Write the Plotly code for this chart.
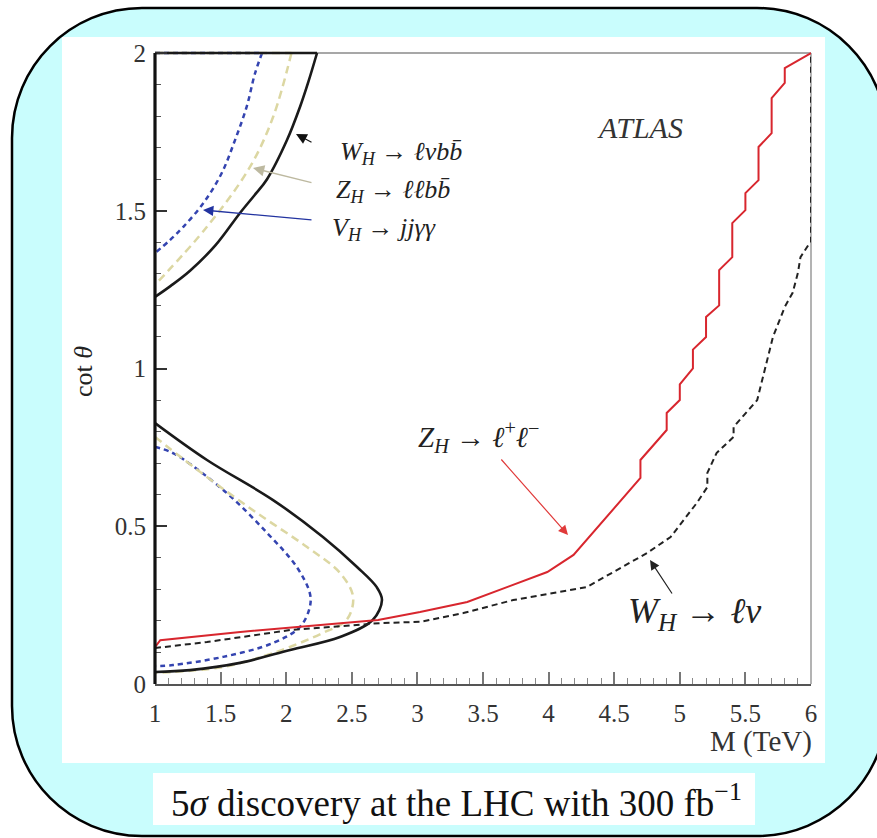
import plotly.graph_objects as go

# ---------------- data ----------------
# W_H -> l nu b bbar (solid black), upper and lower exclusion contours
wlvbb_up_x = [1.0, 2.235, 2.17, 2.105, 2.006, 1.854, 1.76, 1.648, 1.46, 1.267, 1.12, 1.0]
wlvbb_up_y = [2.0, 2.0, 1.91, 1.829, 1.724, 1.60, 1.55, 1.493, 1.39, 1.31, 1.262, 1.227]
wlvbb_lo_x = [1.0, 1.396, 1.90, 2.28, 2.54, 2.69, 2.73, 2.66, 2.41, 2.03, 1.648, 1.267, 1.0]
wlvbb_lo_y = [0.827, 0.71, 0.583, 0.466, 0.371, 0.307, 0.266, 0.203, 0.149, 0.108, 0.067, 0.044, 0.038]

# Z_H -> l l b bbar (khaki dashed)
zllbb_up_x = [1.0, 2.04, 1.90, 1.724, 1.396, 1.0]
zllbb_up_y = [2.0, 2.0, 1.797, 1.639, 1.449, 1.265]
zllbb_lo_x = [1.0, 1.396, 1.777, 2.159, 2.41, 2.51, 2.46, 2.28, 1.90, 1.52, 1.0]
zllbb_lo_y = [0.783, 0.656, 0.542, 0.434, 0.352, 0.276, 0.203, 0.162, 0.098, 0.054, 0.035]

# V_H -> j j gamma gamma (blue dashed)
vjjgg_up_x = [1.0, 1.816, 1.762, 1.699, 1.61, 1.508, 1.37, 1.216, 1.114, 1.0]
vjjgg_up_y = [2.0, 2.0, 1.935, 1.830, 1.724, 1.619, 1.525, 1.449, 1.407, 1.366]
vjjgg_lo_x = [1.0, 1.137, 1.52, 1.854, 2.08, 2.18, 2.18, 2.105, 1.90, 1.52, 1.137, 1.0]
vjjgg_lo_y = [0.751, 0.732, 0.615, 0.479, 0.371, 0.288, 0.244, 0.181, 0.13, 0.086, 0.06, 0.057]

# Z_H -> l+ l- (red solid)
zll_x = [1.0, 1.04, 1.65, 2.70, 3.02, 3.38, 3.99, 4.19, 4.70, 4.70, 4.90, 4.90, 5.00, 5.00,
         5.10, 5.10, 5.20, 5.20, 5.30, 5.30, 5.40, 5.40, 5.50, 5.50, 5.60, 5.60, 5.70, 5.70,
         5.80, 5.80, 6.00]
zll_y = [0.117, 0.139, 0.165, 0.203, 0.228, 0.26, 0.355, 0.409, 0.653, 0.71, 0.805, 0.859, 0.90, 0.95,
         1.0, 1.06, 1.10, 1.163, 1.20, 1.312, 1.353, 1.461, 1.502, 1.556, 1.597, 1.702, 1.746, 1.857,
         1.905, 1.952, 2.0]

# W_H -> l nu (black dashed)
wlv_x = [1.0, 1.396, 2.03, 2.715, 3.02, 3.35, 3.73, 4.29, 4.75, 4.93, 5.13, 5.21, 5.21, 5.28,
         5.41, 5.41, 5.59, 5.65, 5.71, 5.80, 5.86, 5.90, 5.92, 5.99, 6.0, 6.0]
wlv_y = [0.114, 0.133, 0.171, 0.193, 0.197, 0.225, 0.266, 0.307, 0.415, 0.466, 0.574, 0.624, 0.669, 0.732,
         0.783, 0.815, 0.90, 1.0, 1.10, 1.195, 1.24, 1.303, 1.353, 1.398, 1.40, 2.0]

x_tickvals = [1, 1.5, 2, 2.5, 3, 3.5, 4, 4.5, 5, 5.5, 6]
x_ticktext = ["1", "1.5", "2", "2.5", "3", "3.5", "4", "4.5", "5", "5.5", "6"]
y_tickvals = [0, 0.5, 1, 1.5, 2]
y_ticktext = ["0", "0.5", "1", "1.5", "2"]

# ---------------- styling ----------------
SERIF = "Liberation Serif, Times New Roman, DejaVu Serif, serif"
W, H = 877, 838
PL, PR, PB = 155, 811, 684   # pixel of x=1, x=6, y=0
PY2 = 53                     # pixel of y=2
EXTRA = 4                    # extra pixels above y=2 so lines on the top edge are not clipped
PTA = PY2 - EXTRA
YMAX = 2 + EXTRA * 2 / (PB - PY2)


def fx(px):
    return (px - PL) / (PR - PL)


def fy(py):
    return (PB - py) / (PB - PTA)


BLACK = "#1a1a1a"
KHAKI = "#dcd7a2"
BLUE = "#3444b0"
RED = "#d8262e"

fig = go.Figure()


def add(x, y, color, width, dash=None, shape="spline"):
    fig.add_trace(go.Scatter(
        x=x, y=y, mode="lines",
        line=dict(color=color, width=width, dash=dash, shape=shape,
                  smoothing=1.0 if shape == "spline" else None),
        showlegend=False, hoverinfo="skip"))


def add_upper(x, y, color, width, dash=None):
    # straight segment along the top edge, then the curved contour
    add(x[:2], y[:2], color, width, dash, shape="linear")
    add(x[1:], y[1:], color, width, dash)


add_upper(vjjgg_up_x, vjjgg_up_y, BLUE, 2.5, "5px,4px")
add(vjjgg_lo_x, vjjgg_lo_y, BLUE, 2.5, "5px,4px")
add_upper(zllbb_up_x, zllbb_up_y, KHAKI, 2.5, "8px,5px")
add(zllbb_lo_x, zllbb_lo_y, KHAKI, 2.5, "8px,5px")
add_upper(wlvbb_up_x, wlvbb_up_y, BLACK, 2.6)
add(wlvbb_lo_x, wlvbb_lo_y, BLACK, 2.6)
add(wlv_x, wlv_y, "#222222", 2, "6px,4px", shape="linear")
add(zll_x, zll_y, RED, 2, None, shape="linear")


# ---------------- background decorations ----------------
def rounded_path(l, t, r_, b, rad):
    k = 0.5523 * rad
    X, Y = fx, fy
    p = f"M {X(l+rad)},{Y(t)} L {X(r_-rad)},{Y(t)} "
    p += f"C {X(r_-rad+k)},{Y(t)} {X(r_)},{Y(t+rad-k)} {X(r_)},{Y(t+rad)} "
    p += f"L {X(r_)},{Y(b-rad)} "
    p += f"C {X(r_)},{Y(b-rad+k)} {X(r_-rad+k)},{Y(b)} {X(r_-rad)},{Y(b)} "
    p += f"L {X(l+rad)},{Y(b)} "
    p += f"C {X(l+rad-k)},{Y(b)} {X(l)},{Y(b-rad+k)} {X(l)},{Y(b-rad)} "
    p += f"L {X(l)},{Y(t+rad)} "
    p += f"C {X(l)},{Y(t+rad-k)} {X(l+rad-k)},{Y(t)} {X(l+rad)},{Y(t)} Z"
    return p


shapes = [
    dict(type="path", xref="paper", yref="paper", layer="below",
         path=rounded_path(12, 8, 887, 836, 130),
         fillcolor="#c9fdfd", line=dict(color="black", width=2.5)),
    dict(type="rect", xref="paper", yref="paper", layer="below",
         x0=fx(62), x1=fx(825), y0=fy(763), y1=fy(37),
         fillcolor="white", line=dict(width=0)),
    dict(type="rect", xref="paper", yref="paper", layer="below",
         x0=fx(153), x1=fx(755), y0=fy(825), y1=fy(773),
         fillcolor="white", line=dict(width=0)),
    # right and top frame lines (grey)
    dict(type="line", xref="paper", yref="y", layer="below",
         x0=1, x1=1, y0=0, y1=2, line=dict(color="#9a9a9a", width=1.5)),
    dict(type="line", xref="paper", yref="y", layer="below",
         x0=0, x1=1, y0=2, y1=2, line=dict(color="#8a8a8a", width=1.5)),
    # left axis line (thick black)
    dict(type="line", xref="paper", yref="y", layer="above",
         x0=0, x1=0, y0=0, y1=2, line=dict(color="#111", width=3.2)),
]

# ---------------- annotations ----------------
ann = []


def txt(text, px, py, size, xanchor="center", color="#222", angle=0):
    ann.append(dict(text=text, xref="paper", yref="paper", x=fx(px), y=fy(py),
                    xanchor=xanchor, yanchor="middle", showarrow=False, textangle=angle,
                    font=dict(family=SERIF, size=size, color=color)))


def arrow(hx, hy, dx, dy, color, width=1.2, size=1.6):
    ann.append(dict(text="", x=1 + (hx - PL) / ((PR - PL) / 5), y=(PB - hy) / ((PB - PY2) / 2),
                    xref="x", yref="y", ax=dx, ay=dy, showarrow=True,
                    arrowhead=2, arrowsize=size, arrowwidth=width, arrowcolor=color))


ARW = "&nbsp;→&nbsp;"
txt("<i>ATLAS</i>", 640, 127, 30, color="#333")
txt("<i>W</i><sub><i>H</i></sub>" + ARW + "<i>ℓνb</i><i>b̄</i>", 338, 153, 26, xanchor="left")
txt("<i>Z</i><sub><i>H</i></sub>" + ARW + "<i>ℓℓb</i><i>b̄</i>", 334, 191, 26, xanchor="left")
txt("<i>V</i><sub><i>H</i></sub>" + ARW + "<i>jjγγ</i>", 330, 229, 26, xanchor="left")
txt("<i>Z</i><sub><i>H</i></sub>" + ARW + "<i>ℓ</i><sup>+</sup><i>ℓ</i><sup>−</sup>", 416, 437, 29, xanchor="left")
txt("<i>W</i><sub><i>H</i></sub>" + ARW + "<i>ℓν</i>", 626, 613, 36, xanchor="left")
txt("cot <i>θ</i>", 83, 372, 26, angle=-90)
txt("M (TeV)", 814, 741, 29, xanchor="right", color="#333")
txt("5<i>σ</i> discovery at the LHC with 300 fb<sup>−1</sup>", 456, 800, 37, color="#111")

arrow(296, 134, 17, 9, "#111", 1.2, 1.8)
arrow(253, 168, 60, 15, "#bdb9a0", 1.5, 1.5)
arrow(203, 210, 110, 10, "#2233a0", 1.3, 1.6)
arrow(568, 535, -68, -77, "#e03a3a", 1.2, 1.6)
arrow(650, 560, 23, 35, "#222", 1.2, 1.6)

fig.update_layout(
    width=W, height=H, autosize=False,
    margin=dict(l=PL, r=W - PR, t=PTA, b=H - PB, pad=0),
    paper_bgcolor="white", plot_bgcolor="rgba(0,0,0,0)",
    shapes=shapes, annotations=ann, showlegend=False,
    xaxis=dict(range=[1, 6], tickvals=x_tickvals, ticktext=x_ticktext,
               ticks="inside", ticklen=12, tickwidth=1.5, tickcolor="#777",
               minor=dict(ticks="inside", ticklen=6, dtick=0.1, tick0=1, tickcolor="#888",
                          tickwidth=1.2, showgrid=False),
               showline=True, linecolor="#555", linewidth=1.8,
               showgrid=False, zeroline=False, ticklabelstandoff=6,
               tickfont=dict(family=SERIF, size=25, color="#333")),
    yaxis=dict(range=[0, YMAX], tickvals=y_tickvals, ticktext=y_ticktext,
               ticks="inside", ticklen=12, tickwidth=1.5, tickcolor="#333",
               minor=dict(ticks="inside", ticklen=6, dtick=0.1, tick0=0, tickcolor="#555",
                          tickwidth=1.2, showgrid=False),
               showline=False,
               showgrid=False, zeroline=False, ticklabelstandoff=8,
               tickfont=dict(family=SERIF, size=25, color="#333")),
)

fig.write_html("out.html")
